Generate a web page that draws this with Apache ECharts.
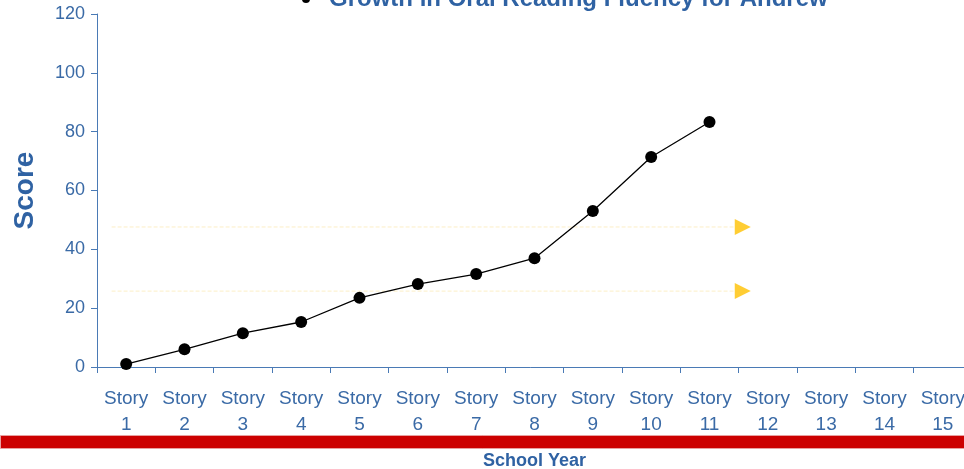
<!DOCTYPE html>
<html>
<head>
<meta charset="utf-8">
<script src="https://cdn.jsdelivr.net/npm/echarts@6/dist/echarts.min.js"></script>
<style>html,body{margin:0;padding:0;background:#fff}#c{width:964px;height:469px}</style>
</head>
<body>
<div id="c"></div>
<script>
var categories = ['Story\n1','Story\n2','Story\n3','Story\n4','Story\n5','Story\n6','Story\n7','Story\n8','Story\n9','Story\n10','Story\n11','Story\n12','Story\n13','Story\n14','Story\n15'];
var scores = [1, 6, 11.5, 15.3, 23.5, 28.2, 31.6, 37, 53, 71.4, 83.3];
var benchmarks = [47.6, 25.8];
var benchmarkLineStart = 0.25;
var benchmarkLineEnd = 10.95;
var benchmarkMarkerX = 11.07;
var yTicks = [0, 20, 40, 60, 80, 100, 120];
var seriesName = 'Growth in Oral Reading Fluency for Andrew';

var blue = '#3a6aa6';
var chart = echarts.init(document.getElementById('c'));

var series = [{
  name: seriesName,
  type: 'line',
  data: scores,
  symbol: 'circle',
  symbolSize: 12,
  itemStyle: {color: '#000'},
  lineStyle: {color: '#000', width: 1.3},
  z: 5
}];
benchmarks.forEach(function (b, i) {
  series.push({
    name: 'bench' + i + 'line',
    type: 'line',
    xAxisIndex: 1,
    data: [[benchmarkLineStart, b], [benchmarkLineEnd, b]],
    symbol: 'none',
    lineStyle: {color: '#fcefc6', width: 1, type: 'dashed'},
    silent: true,
    z: 1
  });
  series.push({
    name: 'bench' + i,
    type: 'scatter',
    xAxisIndex: 1,
    data: [[benchmarkMarkerX, b]],
    symbol: 'triangle',
    symbolRotate: -90,
    symbolSize: [16, 16],
    itemStyle: {color: '#ffc000'},
    z: 4
  });
});

chart.setOption({
  animation: false,
  backgroundColor: '#fff',
  legend: {
    data: [seriesName],
    left: 302,
    top: -13,
    padding: 0,
    icon: 'circle',
    itemWidth: 8,
    itemHeight: 8,
    itemStyle: {color: '#000'},
    textStyle: {fontFamily: 'Liberation Sans, Arial', fontWeight: 'bold', fontSize: 24, color: '#2f62a3', padding: [0, 0, 0, 14]}
  },
  grid: {left: 97, right: -8, top: 14, bottom: 102, containLabel: false, outerBoundsMode: 'none'},
  xAxis: [{
    type: 'category',
    data: categories,
    boundaryGap: true,
    name: 'School Year',
    nameLocation: 'middle',
    nameGap: 85,
    nameTextStyle: {fontFamily: 'Liberation Sans, Arial', fontWeight: 'bold', fontSize: 18, color: '#2f62a3'},
    axisLine: {lineStyle: {color: '#4a7ab5', width: 1}},
    axisTick: {show: true, length: 6, lineStyle: {color: '#4a7ab5'}},
    axisLabel: {fontFamily: 'Liberation Sans, Arial', fontSize: 19, color: blue, lineHeight: 26, margin: 19, interval: 0},
    splitLine: {show: false}
  }, {
    type: 'value',
    min: 0,
    max: 15,
    show: false
  }],
  yAxis: {
    type: 'value',
    min: yTicks[0],
    max: yTicks[yTicks.length - 1],
    interval: 20,
    name: 'Score',
    nameLocation: 'middle',
    nameGap: 58,
    nameTextStyle: {fontFamily: 'Liberation Sans, Arial', fontWeight: 'bold', fontSize: 28, color: '#2f62a3'},
    axisLine: {show: true, lineStyle: {color: '#4a7ab5', width: 1}},
    axisTick: {show: true, length: 6, lineStyle: {color: '#4a7ab5'}},
    axisLabel: {fontFamily: 'Liberation Sans, Arial', fontSize: 18, color: blue, margin: 12},
    splitLine: {show: false}
  },
  graphic: [{
    type: 'rect',
    left: 0,
    top: 435,
    shape: {width: 964, height: 13},
    style: {fill: '#cc0000', stroke: '#e8a0a0', lineWidth: 1},
    silent: true
  }],
  series: series
});
</script>
</body>
</html>
